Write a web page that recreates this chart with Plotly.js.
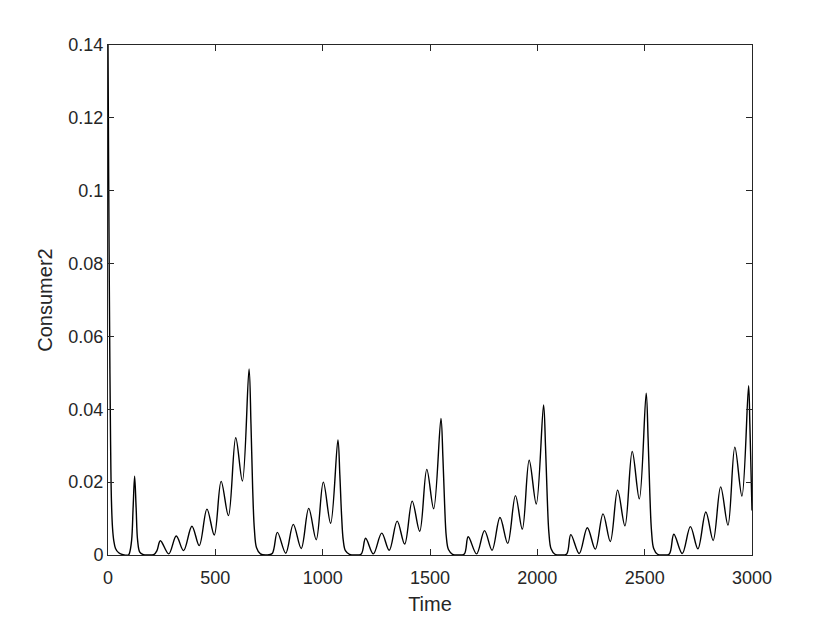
<!DOCTYPE html>
<html>
<head>
<meta charset="utf-8">
<script src="https://cdn.plot.ly/plotly-3.0.1.min.js"></script>
<style>
  html, body { margin: 0; padding: 0; background: #fff; }
  #plot { width: 830px; height: 623px; }
</style>
</head>
<body>
<div id="plot"></div>
<script>
// Time values (peaks, troughs and flank points)
var time = [
  0, 3, 6, 9, 12, 16, 21, 27, 35, 50, 70, 95,
  100, 110, 117, 124, 131, 138, 148, 165, 190, 215,
  228, 244, 283, 318, 352, 391, 425, 461, 495, 527, 561, 595, 626, 657,
  666, 674, 682, 692, 710, 740, 765,
  789, 828, 863, 900, 935, 970, 1003, 1037, 1071,
  1080, 1088, 1096, 1106, 1125, 1155, 1180,
  1200, 1236, 1275, 1310, 1347, 1382, 1417, 1452, 1485, 1517, 1551,
  1560, 1568, 1576, 1586, 1605, 1635, 1660,
  1678, 1717, 1754, 1789, 1826, 1862, 1898, 1930, 1962, 1995, 2029,
  2038, 2046, 2054, 2064, 2082, 2112, 2137,
  2156, 2195, 2233, 2270, 2306, 2340, 2374, 2408, 2442, 2475, 2507,
  2516, 2524, 2532, 2542, 2560, 2590, 2615,
  2636, 2675, 2713, 2748, 2785, 2819, 2854, 2888, 2920, 2953, 2984,
  2990, 2995, 3000
];

var consumer2 = [
  0.14, 0.105, 0.075, 0.05, 0.031, 0.015, 0.0075, 0.0039, 0.0018, 0.0006, 0.0001, 0.0,
  0.0005, 0.004, 0.013, 0.0216, 0.013, 0.004, 0.0008, 0.0001, 0.0, 0.0002,
  0.0012, 0.0039, 0.0003, 0.0052, 0.0012, 0.0079, 0.0026, 0.0126, 0.0055, 0.0202, 0.0108, 0.0322, 0.0203, 0.0511,
  0.036, 0.018, 0.007, 0.002, 0.0003, 0.0, 0.0004,
  0.0062, 0.0005, 0.0084, 0.0018, 0.0128, 0.0042, 0.020, 0.0087, 0.0316,
  0.022, 0.011, 0.004, 0.0012, 0.0002, 0.0, 0.0003,
  0.0046, 0.0003, 0.006, 0.0013, 0.0093, 0.003, 0.0148, 0.0065, 0.0235, 0.0127, 0.0375,
  0.027, 0.014, 0.005, 0.0015, 0.0002, 0.0, 0.0003,
  0.005, 0.0003, 0.0067, 0.0013, 0.0103, 0.0032, 0.0163, 0.0071, 0.026, 0.014, 0.0412,
  0.03, 0.016, 0.006, 0.0017, 0.0002, 0.0, 0.0003,
  0.0056, 0.0004, 0.0075, 0.0016, 0.0113, 0.0037, 0.0178, 0.008, 0.0284, 0.0154, 0.0444,
  0.032, 0.017, 0.0065, 0.0018, 0.0002, 0.0, 0.0003,
  0.0057, 0.0004, 0.0078, 0.0017, 0.0118, 0.004, 0.0187, 0.0082, 0.0296, 0.0162, 0.0465,
  0.036, 0.024, 0.0122
];

var xTicks = [0, 500, 1000, 1500, 2000, 2500, 3000];
var yTicks = [0, 0.02, 0.04, 0.06, 0.08, 0.1, 0.12, 0.14];
var yTickText = ["0", "0.02", "0.04", "0.06", "0.08", "0.1", "0.12", "0.14"];

var trace = {
  x: time,
  y: consumer2,
  type: "scatter",
  mode: "lines",
  line: { color: "#000000", width: 1.4, shape: "spline", smoothing: 1 },
  hoverinfo: "x+y"
};

var axisColor = "#262626";
var fontFamily = "Liberation Sans, Arial, Helvetica, sans-serif";

var layout = {
  width: 830,
  height: 623,
  margin: { l: 108, r: 78, t: 45, b: 68 },
  paper_bgcolor: "#ffffff",
  plot_bgcolor: "#ffffff",
  showlegend: false,
  font: { family: fontFamily, size: 18, color: axisColor },
  xaxis: {
    range: [0, 3000],
    tickvals: xTicks,
    ticks: "inside",
    ticklen: 6,
    tickcolor: axisColor,
    ticklabelstandoff: 6,
    showline: true,
    linecolor: axisColor,
    linewidth: 1,
    mirror: "ticks",
    showgrid: false,
    zeroline: false,
    tickfont: { size: 18 },
    title: { text: "Time", font: { size: 20 }, standoff: 10 }
  },
  yaxis: {
    range: [0, 0.14],
    tickvals: yTicks,
    ticktext: yTickText,
    ticks: "inside",
    ticklen: 6,
    tickcolor: axisColor,
    showline: true,
    linecolor: axisColor,
    linewidth: 1,
    mirror: "ticks",
    showgrid: false,
    zeroline: false,
    tickfont: { size: 18 },
    title: { text: "Consumer2", font: { size: 20 }, standoff: 10 }
  }
};

Plotly.newPlot("plot", [trace], layout, { staticPlot: true });
</script>
</body>
</html>
